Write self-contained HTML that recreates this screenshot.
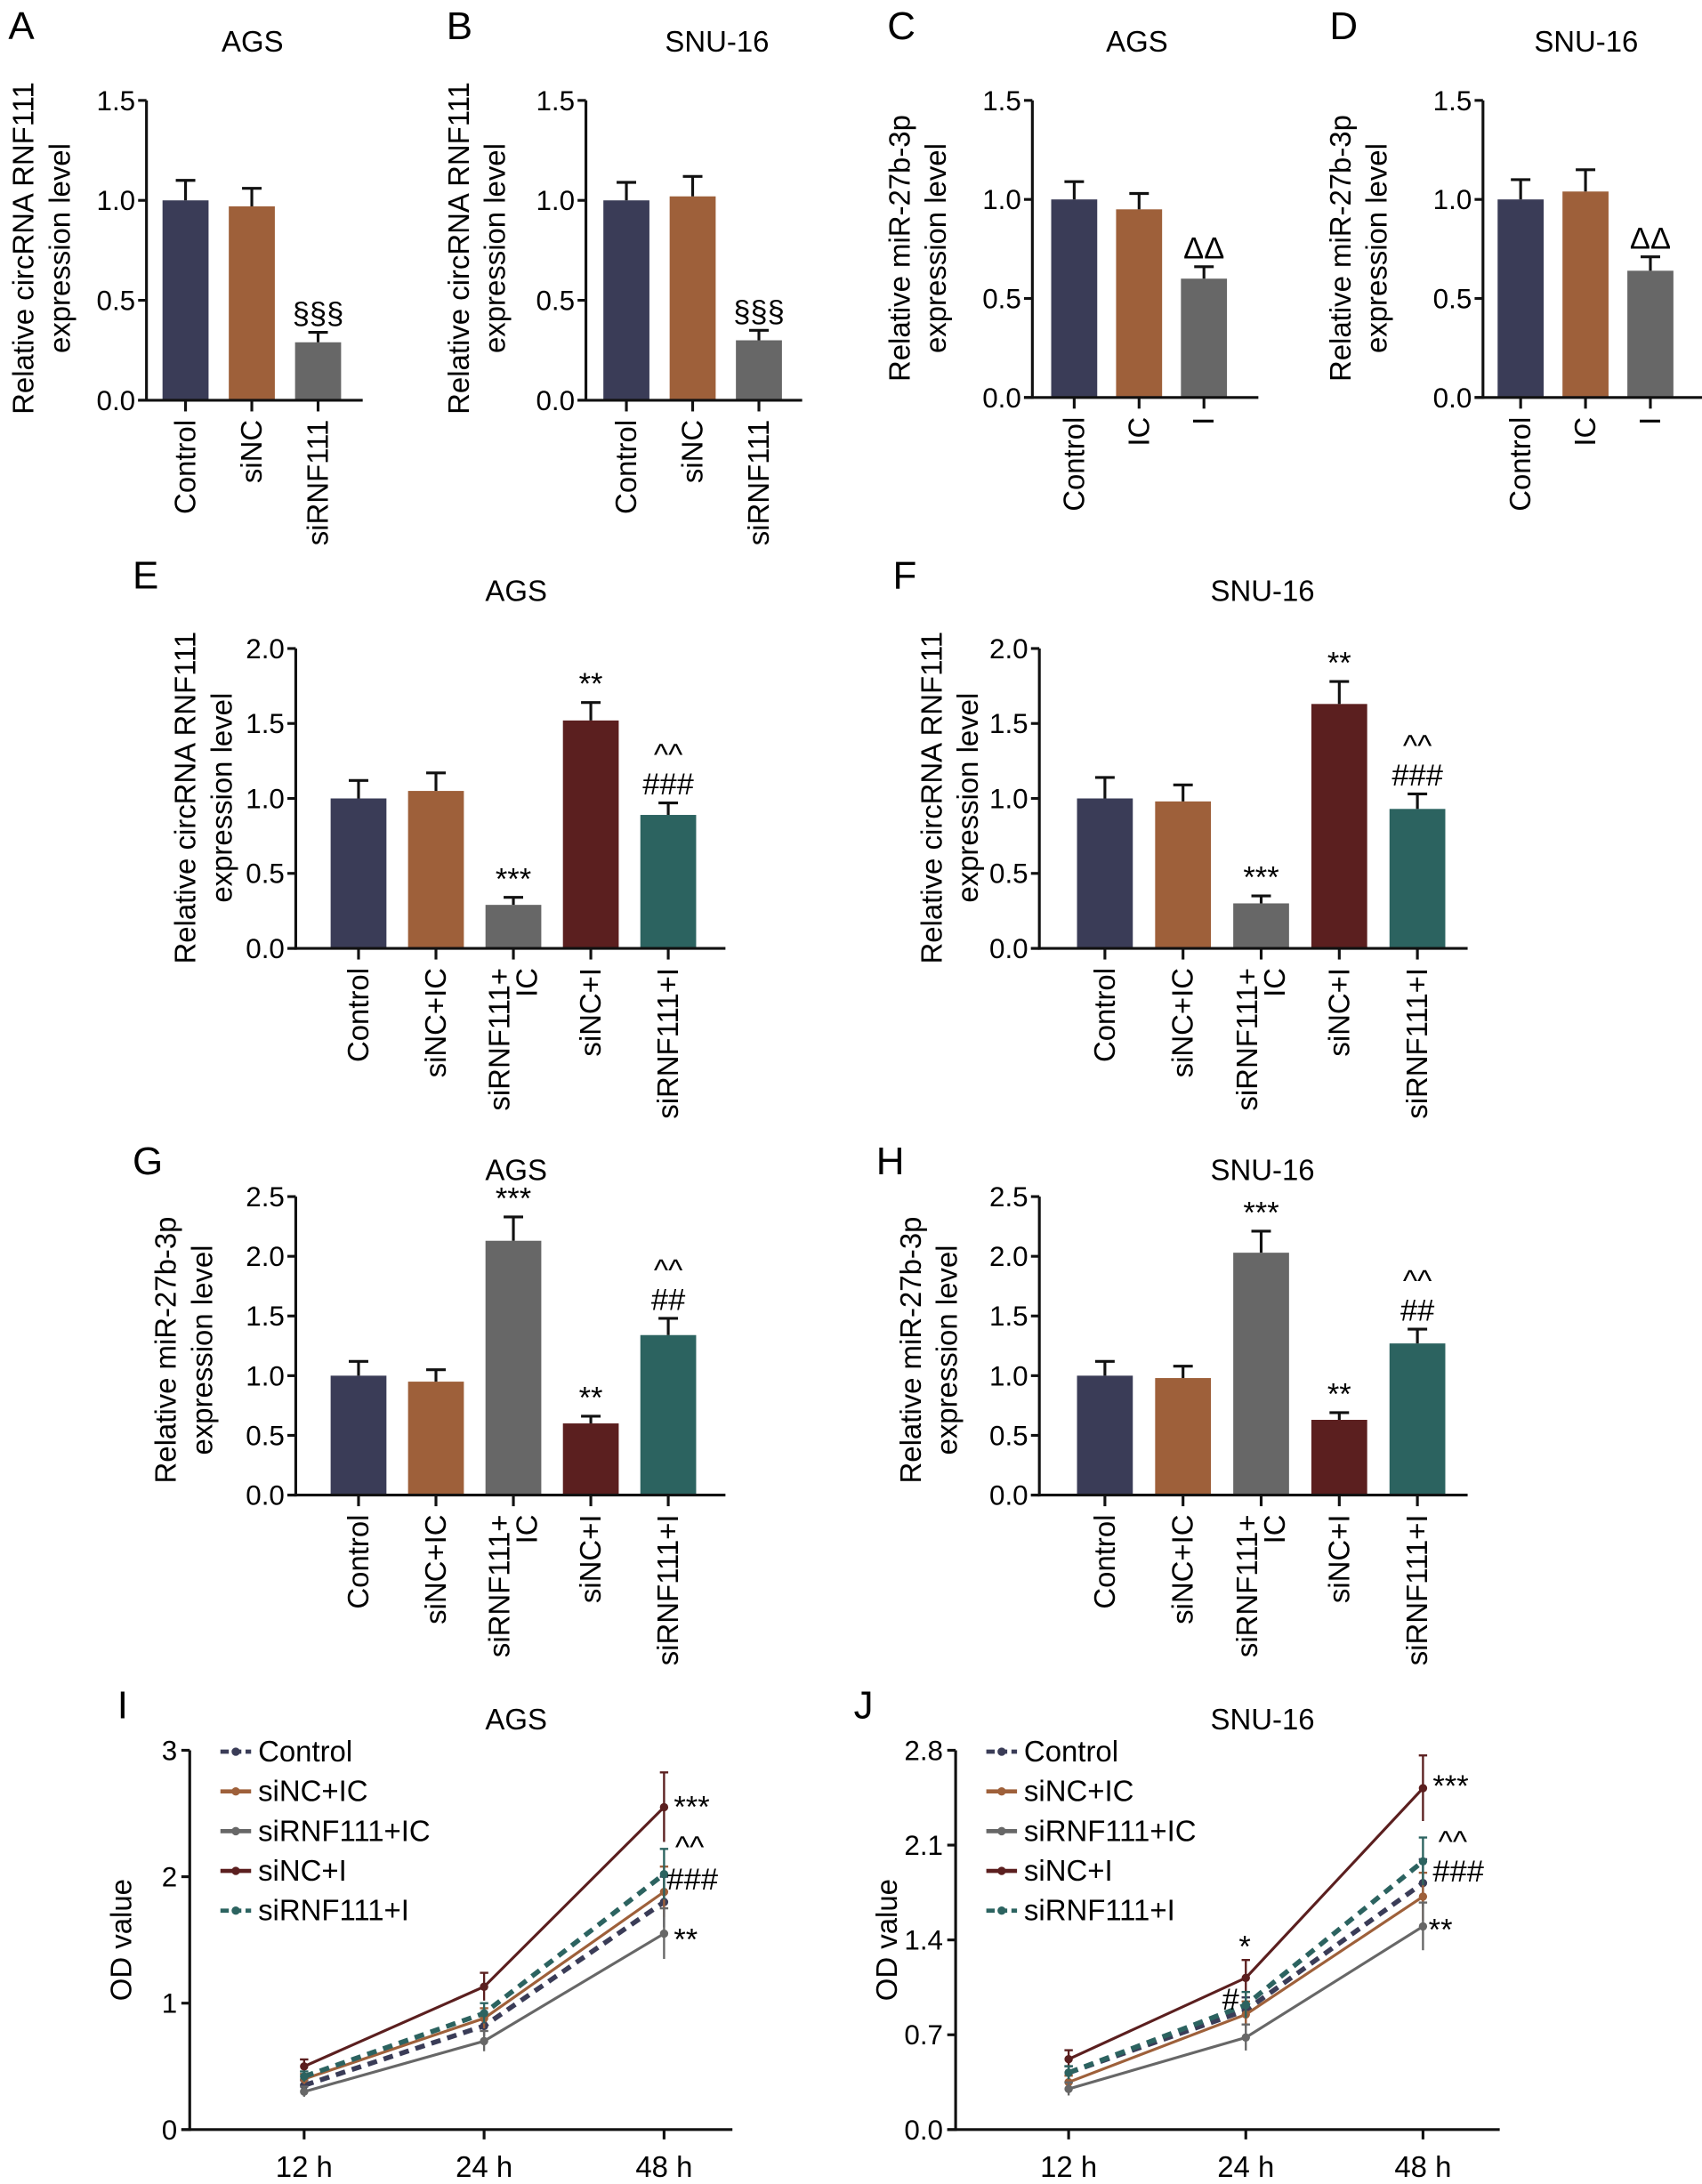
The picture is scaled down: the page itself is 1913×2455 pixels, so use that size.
<!DOCTYPE html>
<html><head><meta charset="utf-8"><style>
html,body{margin:0;padding:0;background:#fff;}
svg{display:block;font-family:"Liberation Sans",sans-serif;}
</style></head><body>
<svg id="fig" xmlns="http://www.w3.org/2000/svg" width="1913" height="2455" viewBox="0 0 1220 1566" preserveAspectRatio="none"></svg>
<script>
// ---- data ----
const catsABCD = ["Control","siNC","siRNF111"];
const catsCD = ["Control","IC","I"];
const catsEH = [["Control"],["siNC+IC"],["siRNF111+","IC"],["siNC+I"],["siRNF111+I"]];
const valsA = [1.0,0.97,0.29]; const errA = [0.10,0.09,0.05];
const valsB = [1.0,1.02,0.30]; const errB = [0.09,0.10,0.05];
const valsC = [1.0,0.95,0.60]; const errC = [0.09,0.08,0.06];
const valsD = [1.0,1.04,0.64]; const errD = [0.10,0.11,0.07];
const valsE = [1.0,1.05,0.29,1.52,0.89]; const errE = [0.12,0.12,0.05,0.12,0.08];
const valsF = [1.0,0.98,0.30,1.63,0.93]; const errF = [0.14,0.11,0.05,0.15,0.10];
const valsG = [1.0,0.95,2.13,0.60,1.34]; const errG = [0.12,0.10,0.20,0.06,0.14];
const valsH = [1.0,0.98,2.03,0.63,1.27]; const errH = [0.12,0.10,0.18,0.06,0.12];
const ticks15 = ["0.0","0.5","1.0","1.5"];
const ticks20 = ["0.0","0.5","1.0","1.5","2.0"];
const ticks25 = ["0.0","0.5","1.0","1.5","2.0","2.5"];
const timeLabels = ["12 h","24 h","48 h"];
const seriesNames = ["Control","siNC+IC","siRNF111+IC","siNC+I","siRNF111+I"];
const iControl=[0.35,0.82,1.80], iSiNCIC=[0.40,0.88,1.88], iSiRNFIC=[0.30,0.70,1.55], iSiNCI=[0.50,1.13,2.55], iSiRNFI=[0.42,0.92,2.02];
const iErr=[0.05,0.10,0.25];
const jControl=[0.42,0.88,1.82], jSiNCIC=[0.35,0.85,1.72], jSiRNFIC=[0.30,0.68,1.50], jSiNCI=[0.52,1.12,2.52], jSiRNFI=[0.42,0.92,1.98];
const jErr=[0.06,0.12,0.22];
const ticksI = ["0","1","2","3"];
const ticksJ = ["0.0","0.7","1.4","2.1","2.8"];

const COLORS=["#3a3c57","#9e603a","#676767","#5b1f1f","#2c6360"];
const FS=21, TFS=20;
const svg=document.getElementById('fig');
const NS="http://www.w3.org/2000/svg";
function el(tag,attrs,parent){const e=document.createElementNS(NS,tag);for(const k in attrs)e.setAttribute(k,attrs[k]);(parent||svg).appendChild(e);return e;}
function txt(s,attrs,parent){const t=el('text',attrs,parent);t.textContent=s;return t;}

function barChart(o){
  const g=el('g',{});
  
  
  const ymax=o.ymax, y=v=>o.y0-(v/ymax)*(o.y0-o.yTop);
  const x=i=>o.x0+o.first+i*o.step;
  const L=txt(o.letter,{x:o.lx,y:o.ly,'font-size':28},g);
  
  const T=txt(o.title,{x:o.tx,y:o.ty,'font-size':FS,'text-anchor':'middle'},g);
  
  o.vals.forEach((v,i)=>{
    const cx=x(i);
    const b=el('rect',{x:cx-o.bw/2,y:y(v),width:o.bw,height:o.y0-y(v),fill:COLORS[o.colorIdx[i]]},g);
    
    const e=y(v+o.err[i]);
    el('line',{x1:cx,x2:cx,y1:y(v),y2:e,stroke:'#111','stroke-width':2},g);
    el('line',{x1:cx-7,x2:cx+7,y1:e,y2:e,stroke:'#111','stroke-width':2},g);
    if(o.ann&&o.ann[i]){o.ann[i].forEach((s,k)=>{const a=txt(s,{x:cx,y:e-6-(o.ann[i].length-1-k)*21,'font-size':22,'text-anchor':'middle'},g);});}
  });
  el('line',{x1:o.x0,x2:o.x0,y1:o.yTop,y2:o.y0+1,stroke:'#111','stroke-width':2},g);
  el('line',{x1:o.x0-6,x2:o.xEnd,y1:o.y0,y2:o.y0,stroke:'#111','stroke-width':2},g);
  o.ticks.forEach((t)=>{const v=parseFloat(t),yy=y(v);
    el('line',{x1:o.x0-6,x2:o.x0,y1:yy,y2:yy,stroke:'#111','stroke-width':2},g);
    const tl=txt(t,{x:o.x0-8,y:yy+7,'font-size':TFS,'text-anchor':'end'},g);
    });
  o.cats.forEach((c,i)=>{const cx=x(i);
    el('line',{x1:cx,x2:cx,y1:o.y0,y2:o.y0+8,stroke:'#111','stroke-width':2},g);
    const lines=Array.isArray(c)?c:[c];
    lines.forEach((s,k)=>{const off=(k-(lines.length-1)/2)*20;
      const t=txt(s,{x:0,y:0,'font-size':FS,'text-anchor':'end',transform:`translate(${cx+7+off},${o.y0+14}) rotate(-90)`},g);
      });
  });
  o.ylab.forEach((s,k)=>{const t=txt(s,{x:0,y:0,'font-size':FS,'text-anchor':'middle',transform:`translate(${o.ylx+k*26},${o.yly}) rotate(-90)`},g);
    });
}
const lab1=["Relative circRNA RNF111","expression level"], lab2=["Relative miR-27b-3p","expression level"];
const c3=[0,1,2], c5=[0,1,2,3,4];
barChart({name:'chart-a',letter:'A',lx:6,ly:28,title:'AGS',tx:181,ty:37,x0:105,xEnd:260,y0:287,yTop:72,ymax:1.5,first:28,step:47.5,bw:33,vals:valsA,err:errA,colorIdx:c3,ticks:ticks15,cats:catsABCD,ylab:lab1,ylx:24,yly:178,ann:[null,null,['§§§']]});
barChart({name:'chart-b',letter:'B',lx:320,ly:28,title:'SNU-16',tx:514,ty:37,x0:420,xEnd:575,y0:287,yTop:72,ymax:1.5,first:29,step:47.5,bw:33,vals:valsB,err:errB,colorIdx:c3,ticks:ticks15,cats:catsABCD,ylab:lab1,ylx:336,yly:178,ann:[null,null,['§§§']]});
barChart({name:'chart-c',letter:'C',lx:636,ly:28,title:'AGS',tx:815,ty:37,x0:740,xEnd:902,y0:285,yTop:72,ymax:1.5,first:30,step:46.5,bw:33,vals:valsC,err:errC,colorIdx:c3,ticks:ticks15,cats:catsCD,ylab:lab2,ylx:652,yly:178,ann:[null,null,['ΔΔ']]});
barChart({name:'chart-d',letter:'D',lx:953,ly:28,title:'SNU-16',tx:1137,ty:37,x0:1063,xEnd:1222,y0:285,yTop:72,ymax:1.5,first:27,step:46.5,bw:33,vals:valsD,err:errD,colorIdx:c3,ticks:ticks15,cats:catsCD,ylab:lab2,ylx:968,yly:178,ann:[null,null,['ΔΔ']]});
barChart({name:'chart-e',letter:'E',lx:95,ly:422,title:'AGS',tx:370,ty:431,x0:212,xEnd:520,y0:680,yTop:465,ymax:2.0,first:45,step:55.5,bw:40,vals:valsE,err:errE,colorIdx:c5,ticks:ticks20,cats:catsEH,ylab:lab1,ylx:140,yly:572,ann:[null,null,['***'],['**'],['^^','###']]});
barChart({name:'chart-f',letter:'F',lx:640,ly:422,title:'SNU-16',tx:905,ty:431,x0:745,xEnd:1052,y0:680,yTop:465,ymax:2.0,first:47,step:56,bw:40,vals:valsF,err:errF,colorIdx:c5,ticks:ticks20,cats:catsEH,ylab:lab1,ylx:675,yly:572,ann:[null,null,['***'],['**'],['^^','###']]});
barChart({name:'chart-g',letter:'G',lx:95,ly:842,title:'AGS',tx:370,ty:846,x0:212,xEnd:520,y0:1072,yTop:858,ymax:2.5,first:45,step:55.5,bw:40,vals:valsG,err:errG,colorIdx:c5,ticks:ticks25,cats:catsEH,ylab:lab2,ylx:126,yly:968,ann:[null,null,['***'],['**'],['^^','##']]});
barChart({name:'chart-h',letter:'H',lx:628,ly:842,title:'SNU-16',tx:905,ty:846,x0:745,xEnd:1052,y0:1072,yTop:858,ymax:2.5,first:47,step:56,bw:40,vals:valsH,err:errH,colorIdx:c5,ticks:ticks25,cats:catsEH,ylab:lab2,ylx:660,yly:968,ann:[null,null,['***'],['**'],['^^','##']]});

function lineChart(o){
  const g=el('g',{});
  
  
  const y=v=>o.y0-(v/o.ymax)*(o.y0-o.yTop), x=i=>o.xs0+i*o.xstep;
  const L=txt(o.letter,{x:o.lx,y:o.ly,'font-size':28},g);
  const T=txt(o.title,{x:o.tx,y:o.ty,'font-size':FS,'text-anchor':'middle'},g);
  el('line',{x1:o.x0,x2:o.x0,y1:o.yTop,y2:o.y0+1,stroke:'#111','stroke-width':2},g);
  el('line',{x1:o.x0-6,x2:o.xEnd,y1:o.y0,y2:o.y0,stroke:'#111','stroke-width':2},g);
  o.ticks.forEach(t=>{const yy=y(parseFloat(t));el('line',{x1:o.x0-6,x2:o.x0,y1:yy,y2:yy,stroke:'#111','stroke-width':2},g);
    const tl=txt(t,{x:o.x0-9,y:yy+7,'font-size':TFS,'text-anchor':'end'},g);});
  timeLabels.forEach((s,i)=>{el('line',{x1:x(i),x2:x(i),y1:o.y0,y2:o.y0+7,stroke:'#111','stroke-width':2},g);
    const t=txt(s,{x:x(i),y:o.y0+34,'font-size':FS,'text-anchor':'middle'},g);});
  const yt=txt('OD value',{x:0,y:0,'font-size':FS,'text-anchor':'middle',transform:`translate(${o.x0-42},${(o.y0+o.yTop)/2}) rotate(-90)`},g);
  
  const dashes=['7,5',null,null,null,'7,5'];
  o.series.forEach((s,si)=>{
    const pts=s.map((v,i)=>x(i)+','+y(v)).join(' ');
    const pl=el('polyline',{points:pts,fill:'none',stroke:COLORS[si],'stroke-width':si===0||si===4?3.5:2},g);
    if(dashes[si])pl.setAttribute('stroke-dasharray',dashes[si]);
    
    s.forEach((v,i)=>{const e=o.err[i]*(si===3?1.1:0.8);
      el('line',{x1:x(i),x2:x(i),y1:y(v-e),y2:y(v+e),stroke:COLORS[si],'stroke-width':1.5},g);
      el('line',{x1:x(i)-3,x2:x(i)+3,y1:y(v+e),y2:y(v+e),stroke:COLORS[si],'stroke-width':1.5},g);
      const m=el('circle',{cx:x(i),cy:y(v),r:3,fill:COLORS[si]},g);
      });
    const ly=o.legY+si*28.5;
    const ll=el('line',{x1:o.legX,x2:o.legX+22,y1:ly,y2:ly,stroke:COLORS[si],'stroke-width':3},g);
    if(dashes[si])ll.setAttribute('stroke-dasharray','6,3');
    el('circle',{cx:o.legX+11,cy:ly,r:3,fill:COLORS[si]},g);
    const lt=txt(seriesNames[si],{x:o.legX+27,y:ly+7,'font-size':FS},g);
    
  });
  o.ann.forEach(a=>{const t=txt(a[0],{x:a[1],y:a[2],'font-size':22},g);});
}
lineChart({name:'chart-i',letter:'I',lx:84,ly:1232,title:'AGS',tx:370,ty:1240,x0:136,xEnd:525,y0:1527,yTop:1255,ymax:3,xs0:218,xstep:129,ticks:ticksI,
  series:[iControl,iSiNCIC,iSiRNFIC,iSiNCI,iSiRNFI],err:iErr,legX:158,legY:1256,
  ann:[['***',483,1303],['^^',484,1332],['###',478,1355],['**',483,1398]]});
lineChart({name:'chart-j',letter:'J',lx:612,ly:1232,title:'SNU-16',tx:905,ty:1240,x0:685,xEnd:1075,y0:1527,yTop:1255,ymax:2.8,xs0:766,xstep:127,ticks:ticksJ,
  series:[jControl,jSiNCIC,jSiRNFIC,jSiNCI,jSiRNFI],err:jErr,legX:707,legY:1256,
  ann:[['*',888,1403],['#',876,1441],['***',1027,1288],['^^',1031,1328],['###',1027,1349],['**',1024,1391]]});
</script>
</body></html>
